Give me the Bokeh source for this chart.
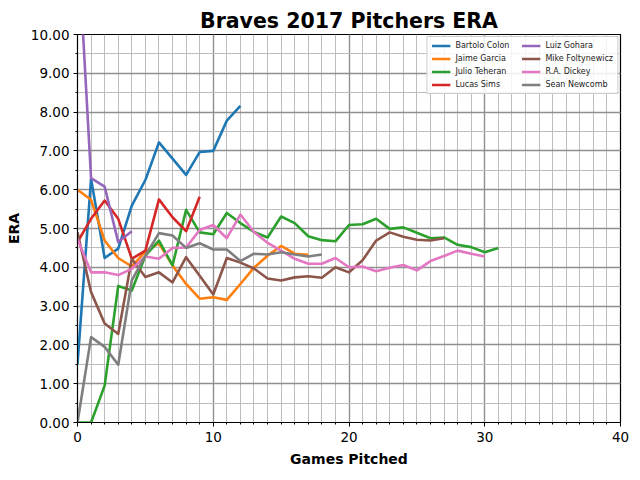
from bokeh.plotting import figure
from bokeh.models import (SingleIntervalTicker, PrintfTickFormatter, Range1d,
                          Legend, LegendItem)
from bokeh.embed import file_html
from bokeh.resources import INLINE

title = "Braves 2017 Pitchers ERA"
x_label = "Games Pitched"
y_label = "ERA"

names = ["Bartolo Colon", "Jaime Garcia", "Julio Teheran", "Lucas Sims",
         "Luiz Gohara", "Mike Foltynewicz", "R.A. Dickey", "Sean Newcomb"]
colors = ["#1f77b4", "#ff7f0e", "#2ca02c", "#d62728",
          "#9467bd", "#8c564b", "#e377c2", "#7f7f7f"]

bartolo_colon = [1.5, 6.28, 4.24, 4.48, 5.59, 6.25, 7.22, 6.8, 6.38, 6.97, 7.0, 7.78, 8.16]
jaime_garcia = [6.0, 5.74, 4.69, 4.24, 4.02, 4.41, 4.62, 4.05, 3.57, 3.19, 3.23, 3.16,
                3.57, 3.99, 4.3, 4.55, 4.35, 4.32]
julio_teheran = [0.0, 0.0, 0.95, 3.52, 3.4, 4.3, 4.69, 4.05, 5.48, 4.9, 4.85, 5.4,
                 5.14, 4.91, 4.77, 5.31, 5.14, 4.8, 4.7, 4.67, 5.09, 5.11, 5.25, 4.99,
                 5.03, 4.89, 4.75, 4.77, 4.58, 4.52, 4.39, 4.5]
lucas_sims = [4.65, 5.25, 5.72, 5.25, 4.22, 4.43, 5.75, 5.29, 4.93, 5.82]
luiz_gohara = [12.6, 6.3, 6.08, 4.65, 4.93]
mike_foltynewicz = [4.9, 3.36, 2.55, 2.28, 4.22, 3.75, 3.87, 3.61, 4.26, 3.78, 3.3,
                    4.24, 4.12, 3.97, 3.71, 3.66, 3.74, 3.77, 3.73, 4.0, 3.87, 4.18,
                    4.69, 4.9, 4.79, 4.71, 4.69, 4.75]
ra_dickey = [4.73, 3.87, 3.87, 3.8, 3.96, 4.28, 4.22, 4.5, 4.51, 4.96, 5.09, 4.75,
             5.36, 4.91, 4.63, 4.43, 4.22, 4.09, 4.09, 4.24, 4.0, 4.02, 3.9, 3.99,
             4.06, 3.92, 4.16, 4.29, 4.43, 4.35, 4.28]
sean_newcomb = [0.0, 2.2, 1.95, 1.49, 3.66, 4.3, 4.88, 4.82, 4.5, 4.62, 4.46, 4.46,
                4.16, 4.35, 4.33, 4.39, 4.33, 4.28, 4.33]

series = [bartolo_colon, jaime_garcia, julio_teheran, lucas_sims,
          luiz_gohara, mike_foltynewicz, ra_dickey, sean_newcomb]

FONT = "DejaVu Sans"

p = figure(width=636, height=476, output_backend="svg", toolbar_location=None,
           x_range=Range1d(0, 40), y_range=Range1d(0, 10),
           min_border_left=77, min_border_right=16, min_border_top=34,
           min_border_bottom=54)

p.title.text = title
p.title.align = "center"
p.title.text_font = FONT
p.title.text_font_size = "20.5px"
p.title.text_font_style = "bold"
p.title.text_color = "black"
p.title.offset = -28
p.title.standoff = 3

p.outline_line_color = "black"
p.outline_line_width = 1.2
p.outline_line_alpha = 1.0

p.xaxis.ticker = SingleIntervalTicker(interval=10, num_minor_ticks=10)
p.yaxis.ticker = SingleIntervalTicker(interval=1, num_minor_ticks=2)
p.yaxis.formatter = PrintfTickFormatter(format="%.2f")

for ax in (p.xaxis, p.yaxis):
    ax.axis_line_color = "black"
    ax.major_tick_line_color = "black"
    ax.minor_tick_line_color = "black"
    ax.major_tick_out = 4
    ax.major_tick_in = 0
    ax.minor_tick_out = 2
    ax.minor_tick_in = 0
    ax.major_label_text_font = FONT
    ax.major_label_text_font_size = "13.5px"
    ax.major_label_text_color = "black"
    ax.axis_label_text_font = FONT
    ax.axis_label_text_font_size = "14px"
    ax.axis_label_text_font_style = "bold"
    ax.axis_label_text_color = "black"

p.xaxis.axis_label = x_label
p.yaxis.axis_label = y_label
p.xaxis.axis_label_standoff = 6
p.yaxis.axis_label_standoff = 6
p.xaxis.major_label_standoff = 5
p.yaxis.major_label_standoff = 4

for g in (p.xgrid, p.ygrid):
    g.grid_line_color = "#8f8f8f"
    g.grid_line_width = 1.4
    g.minor_grid_line_color = "#bdbdbd"
    g.minor_grid_line_width = 1.0

items = []
for name, color, vals in zip(names, colors, series):
    xs = list(range(len(vals)))
    r = p.line(xs, vals, line_color=color, line_width=2.6, line_join="round")
    items.append(LegendItem(label=name, renderers=[r]))

legend = Legend(items=items, ncols=2, location="top_right",
                label_text_font=FONT, label_text_font_size="8px",
                label_text_color="#222222", label_width=62,
                glyph_width=19, glyph_height=9, label_height=9,
                label_standoff=5, spacing=4, padding=4, margin=2,
                border_line_color="#cccccc", border_line_alpha=1.0,
                background_fill_color="white", background_fill_alpha=0.85)
p.add_layout(legend)

open("out.html", "w").write(file_html(p, INLINE))
